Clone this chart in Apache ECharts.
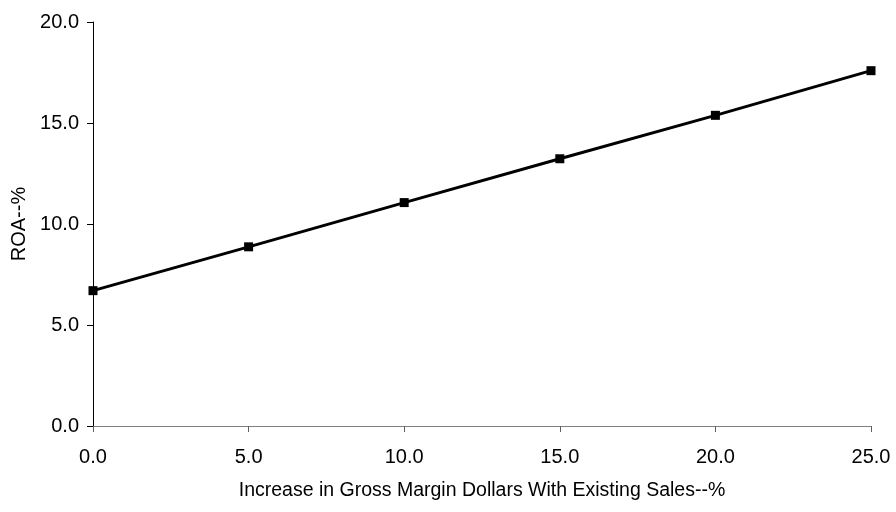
<!DOCTYPE html>
<html>
<head>
<meta charset="utf-8">
<script src="https://cdn.jsdelivr.net/npm/echarts@6/dist/echarts.min.js"></script>
<style>html,body{margin:0;padding:0;background:#fff}#c{width:896px;height:512px}</style>
</head>
<body>
<div id="c"></div>
<script>
const xValues = [0, 5, 10, 15, 20, 25];
const roaValues = [6.7, 8.87, 11.06, 13.23, 15.38, 17.59];
const xTicks = [0, 25, 5];   // min, max, interval
const yTicks = [0, 20, 5];
const xTitle = 'Increase in Gross Margin Dollars With Existing Sales--%';
const yTitle = 'ROA--%';

const font = 'Liberation Sans, Arial, sans-serif';
const chart = echarts.init(document.getElementById('c'), null, {renderer: 'canvas'});
chart.setOption({
  backgroundColor: '#ffffff',
  animation: false,
  grid: {left: 93, right: 25, top: 22, bottom: 86, containLabel: false},
  xAxis: {
    type: 'value', min: xTicks[0], max: xTicks[1], interval: xTicks[2],
    name: xTitle, nameLocation: 'middle', nameGap: 55,
    nameTextStyle: {color: '#000', fontSize: 19.5, fontFamily: font},
    axisLine: {show: true, lineStyle: {color: '#808080', width: 1}},
    axisTick: {show: true, inside: false, length: 6, lineStyle: {color: '#606060'}},
    axisLabel: {color: '#000', fontSize: 20, fontFamily: font, margin: 21,
      formatter: v => v.toFixed(1)},
    splitLine: {show: false}
  },
  yAxis: {
    type: 'value', min: yTicks[0], max: yTicks[1], interval: yTicks[2],
    name: yTitle, nameLocation: 'middle', nameGap: 64, nameRotate: 90,
    nameTextStyle: {color: '#000', fontSize: 20, fontFamily: font},
    axisLine: {show: true, lineStyle: {color: '#000', width: 1}},
    axisTick: {show: true, inside: false, length: 6, lineStyle: {color: '#000'}},
    axisLabel: {color: '#000', fontSize: 20, fontFamily: font, margin: 14,
      formatter: v => v.toFixed(1)},
    splitLine: {show: false}
  },
  series: [{
    type: 'line',
    data: xValues.map((x, i) => [x, roaValues[i]]),
    symbol: 'rect', symbolSize: 9,
    lineStyle: {color: '#000', width: 3},
    itemStyle: {color: '#000'},
    clip: false
  }]
});
</script>
</body>
</html>
